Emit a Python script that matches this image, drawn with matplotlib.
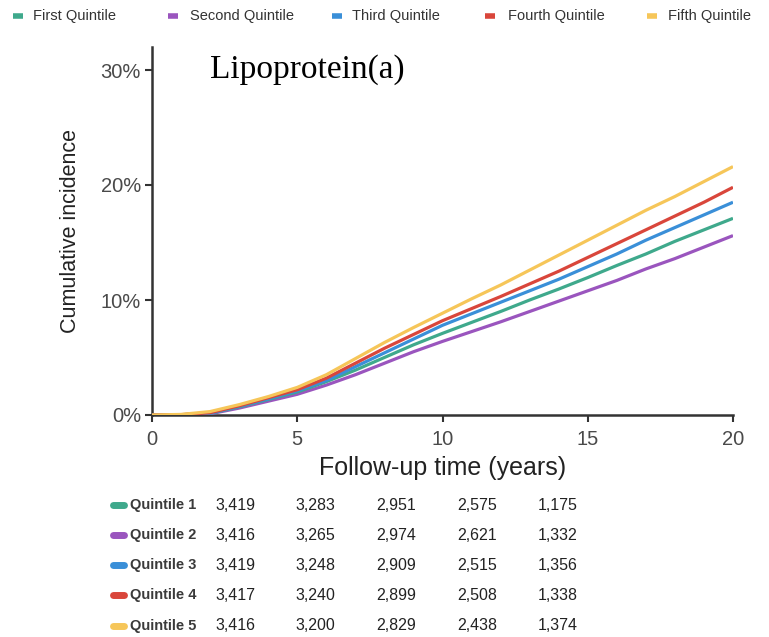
import numpy as np
import matplotlib
matplotlib.use("Agg")
import matplotlib.pyplot as plt
from matplotlib.lines import Line2D

plt.rcParams['font.family'] = ['Liberation Sans', 'DejaVu Sans']

# follow-up years and cumulative incidence (%)
years = [0, 1, 2, 3, 4, 5, 6, 7, 8, 9, 10, 11, 12, 13, 14, 15, 16, 17, 18, 19, 20]
q1 = [0, 0.02, 0.15, 0.7, 1.35, 2.0, 2.9, 3.9, 5.0, 6.1, 7.1, 8.05, 9.0, 10.0, 10.95, 11.95, 13.0, 14.0, 15.1, 16.1, 17.1]
q2 = [0, 0.01, 0.1, 0.6, 1.2, 1.8, 2.6, 3.5, 4.5, 5.5, 6.4, 7.25, 8.1, 9.0, 9.9, 10.8, 11.7, 12.7, 13.6, 14.6, 15.6]
q3 = [0, 0.02, 0.15, 0.75, 1.4, 2.1, 3.0, 4.2, 5.4, 6.6, 7.8, 8.8, 9.8, 10.8, 11.8, 12.9, 14.0, 15.2, 16.3, 17.4, 18.5]
q4 = [0, 0.03, 0.2, 0.8, 1.5, 2.2, 3.2, 4.5, 5.8, 7.0, 8.2, 9.25, 10.3, 11.4, 12.5, 13.7, 14.9, 16.1, 17.3, 18.5, 19.8]
q5 = [0, 0.05, 0.3, 0.9, 1.6, 2.4, 3.5, 4.9, 6.3, 7.6, 8.85, 10.1, 11.3, 12.6, 13.9, 15.2, 16.5, 17.8, 19.0, 20.3, 21.6]

legend_labels = ['First Quintile', 'Second Quintile', 'Third Quintile', 'Fourth Quintile', 'Fifth Quintile']
row_labels = ['Quintile 1', 'Quintile 2', 'Quintile 3', 'Quintile 4', 'Quintile 5']
colors = ['#3FA98C', '#9A55BE', '#3A8FD8', '#D9463B', '#F6C659']

# numbers at risk
risk_q1 = ['3,419', '3,283', '2,951', '2,575', '1,175']
risk_q2 = ['3,416', '3,265', '2,974', '2,621', '1,332']
risk_q3 = ['3,419', '3,248', '2,909', '2,515', '1,356']
risk_q4 = ['3,417', '3,240', '2,899', '2,508', '1,338']
risk_q5 = ['3,416', '3,200', '2,829', '2,438', '1,374']

W, H = 769, 637
fig = plt.figure(figsize=(W / 100, H / 100), dpi=100)
ax = fig.add_axes([152 / W, 1 - 415 / H, (733 - 152) / W, (415 - 47) / H])

series = [q1, q2, q3, q4, q5]
# draw lowest first so yellow sits on top like the reference
for i in [1, 0, 2, 3, 4]:
    ax.plot(years, series[i], color=colors[i], lw=2.3, solid_capstyle='butt', zorder=3)

ax.set_xlim(0, 20)
ax.set_ylim(0, 32)
ax.set_xticks([0, 5, 10, 15, 20])
ax.set_yticks([0, 10, 20, 30])
ax.set_yticklabels(['0%', '10%', '20%', '30%'])
for s in ['top', 'right']:
    ax.spines[s].set_visible(False)
for s in ['left', 'bottom']:
    ax.spines[s].set_color('#333333')
    ax.spines[s].set_linewidth(1.8)
ax.tick_params(length=5, width=1.5, color='#333333', labelsize=14.5, labelcolor='#4a4a4a')
ax.tick_params(axis='x', pad=6)
ax.tick_params(axis='y', pad=3)
ax.set_xlabel('Follow-up time (years)', fontsize=18, color='#222222', labelpad=5)
ax.set_ylabel('Cumulative incidence', fontsize=15.5, color='#222222', labelpad=14)

fig.text(210 / W, 1 - 78 / H, 'Lipoprotein(a)', family='Liberation Serif', fontsize=24,
         color='black', va='baseline', ha='left')

# top legend
leg_marker_x = [18, 173, 337, 490, 652]
leg_text_x = [33, 190, 352, 508, 668]
for i, lab in enumerate(legend_labels):
    mx = leg_marker_x[i] / W
    fig.add_artist(Line2D([mx - 5 / W, mx + 5 / W], [1 - 16 / H] * 2, color=colors[i],
                          lw=4, solid_capstyle='butt', transform=fig.transFigure))
    fig.text(leg_text_x[i] / W, 1 - 16 / H, lab, fontsize=10.5, color='#333333', va='center', ha='left')

# numbers at risk table
risk = [risk_q1, risk_q2, risk_q3, risk_q4, risk_q5]
col_x = [235, 315, 396, 477, 558]
row_y = [505, 535, 565, 595, 626]
for r in range(5):
    y = 1 - row_y[r] / H
    fig.add_artist(Line2D([113 / W, 124 / W], [y, y], color=colors[r], lw=5,
                          solid_capstyle='round', transform=fig.transFigure))
    fig.text(130 / W, y, row_labels[r], fontsize=10.5, fontweight='bold', color='#3a3a3a',
             va='center', ha='left')
    for c in range(5):
        fig.text(col_x[c] / W, y, risk[r][c], fontsize=11.5, color='#222222', va='center', ha='center')

fig.savefig('out.png', dpi=100)
